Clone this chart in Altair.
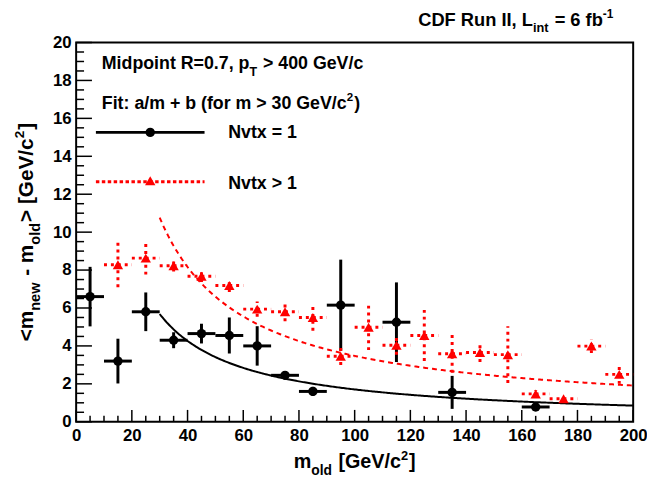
import altair as alt
import pandas as pd

# ---------------- data ----------------
bin_half = 5.0
# Nvtx = 1
m_one = [5, 15, 25, 35, 45, 55, 65, 75, 85, 95, 115, 135, 165]
d_one = [6.6, 3.2, 5.8, 4.3, 4.65, 4.55, 4.0, 2.45, 1.6, 6.15, 5.25, 1.55, 0.78]
e_one = [1.57, 1.18, 1.02, 0.42, 0.52, 0.95, 1.04, 0.2, 0.24, 2.4, 2.1, 0.87, 0.15]
# Nvtx > 1
m_many = [15, 25, 35, 45, 55, 65, 75, 85, 95, 105, 115, 125, 135, 145, 155, 165, 175, 185, 195]
d_many = [8.28, 8.63, 8.23, 7.67, 7.19, 5.94, 5.8, 5.5, 3.45, 4.98, 4.03, 4.55, 3.59, 3.65,
          3.54, 1.47, 1.21, 3.99, 2.5]
e_many = [1.18, 0.87, 0.3, 0.3, 0.35, 0.4, 0.5, 0.7, 0.45, 1.2, 0.5, 1.35, 1.0, 0.5,
          1.5, 0.2, 0.15, 0.37, 0.5]
# fit a/m + b for m > 30
fit_one = (170.5, 0.0)
fit_many = (312.4, 0.35)
fit_range = (30, 200)

x_ticks_major = list(range(0, 201, 20))
y_ticks_major = list(range(0, 21, 2))

# ---------------- layout ----------------
W, H = 564, 384
FONT = "Liberation Sans"
RED = "#ff0000"

xs = alt.Scale(domain=[0, 200], nice=False, zero=False)
ys = alt.Scale(domain=[0, 20], nice=False, zero=False)

common_axis = dict(ticks=False, tickSize=0, domain=False, grid=False, labelFont=FONT,
                   labelFontWeight="bold", labelFontSize=17, labelColor="black",
                   labelOverlap=False, labelFlush=False, labelBound=False, title=None,
                   format="d")
xaxis = alt.Axis(values=x_ticks_major, labelPadding=6, **common_axis)
yaxis = alt.Axis(values=y_ticks_major, labelPadding=5, **common_axis)


def X(f):
    return alt.X(f, type="quantitative", scale=xs, axis=xaxis, title=None)


def Y(f):
    return alt.Y(f, type="quantitative", scale=ys, axis=yaxis, title=None)


def frame(m, d, e):
    df = pd.DataFrame({"m": m, "d": d, "e": e})
    df["xlo"] = df["m"] - bin_half
    df["xhi"] = df["m"] + bin_half
    df["ylo"] = df["d"] - df["e"]
    df["yhi"] = df["d"] + df["e"]
    return df


df1 = frame(m_one, d_one, e_one)
df2 = frame(m_many, d_many, e_many)

layers = []

# fits
for (a, b), col, dash in [(fit_many, RED, [5, 4]), (fit_one, "black", None)]:
    kw = dict(color=col, strokeWidth=2)
    if dash:
        kw["strokeDash"] = dash
    layers.append(
        alt.Chart(alt.sequence(fit_range[0], fit_range[1] + 0.01, 0.5, as_="m"))
        .transform_calculate(f=f"{a}/datum.m + {b}")
        .mark_line(**kw)
        .encode(x=X("m"), y=Y("f"))
    )

# Nvtx = 1
layers.append(alt.Chart(df1).mark_rule(color="black", strokeWidth=3)
              .encode(x=X("xlo"), x2="xhi:Q", y=Y("d")))
layers.append(alt.Chart(df1).mark_rule(color="black", strokeWidth=3)
              .encode(x=X("m"), y=Y("ylo"), y2="yhi:Q"))
layers.append(alt.Chart(df1).mark_point(shape="circle", filled=True, size=90,
                                        color="black", opacity=1)
              .encode(x=X("m"), y=Y("d")))
# Nvtx > 1
layers.append(alt.Chart(df2).mark_rule(color=RED, strokeWidth=3, strokeDash=[3, 4])
              .encode(x=X("xlo"), x2="xhi:Q", y=Y("d")))
layers.append(alt.Chart(df2).mark_rule(color=RED, strokeWidth=3, strokeDash=[3, 4])
              .encode(x=X("m"), y=Y("ylo"), y2="yhi:Q"))
layers.append(alt.Chart(df2).mark_point(shape="triangle-up", filled=True, size=110,
                                        color=RED, opacity=1)
              .encode(x=X("m"), y=Y("d")))

# inward ticks
ytick_major = pd.DataFrame({"v": [v for v in y_ticks_major]})
ytick_minor = pd.DataFrame({"v": [i * 0.5 for i in range(41) if (i * 0.5) % 2 != 0]})
xtick_major = pd.DataFrame({"v": x_ticks_major})
xtick_minor = pd.DataFrame({"v": [v for v in range(0, 201, 5) if v % 20 != 0]})
layers.append(alt.Chart(ytick_major).mark_rule(color="black", strokeWidth=1.5)
              .encode(y=Y("v"), x=alt.value(0), x2=alt.value(16)))
layers.append(alt.Chart(ytick_minor).mark_rule(color="black", strokeWidth=1.5)
              .encode(y=Y("v"), x=alt.value(0), x2=alt.value(8)))
layers.append(alt.Chart(xtick_major).mark_rule(color="black", strokeWidth=1.5)
              .encode(x=X("v"), y=alt.value(H), y2=alt.value(H - 12)))
layers.append(alt.Chart(xtick_minor).mark_rule(color="black", strokeWidth=1.5)
              .encode(x=X("v"), y=alt.value(H), y2=alt.value(H - 6)))

one = pd.DataFrame({"k": [0]})

# legend
layers.append(alt.Chart(one).mark_rule(color="black", strokeWidth=3)
              .encode(x=alt.value(20), x2=alt.value(130), y=alt.value(91)))
layers.append(alt.Chart(one).mark_point(shape="circle", filled=True, size=90,
                                        color="black", opacity=1)
              .encode(x=alt.value(75), y=alt.value(91)))
layers.append(alt.Chart(one).mark_rule(color=RED, strokeWidth=3, strokeDash=[3.5, 2.5])
              .encode(x=alt.value(20), x2=alt.value(130), y=alt.value(141)))
layers.append(alt.Chart(one).mark_point(shape="triangle-up", filled=True, size=110,
                                        color=RED, opacity=1)
              .encode(x=alt.value(75), y=alt.value(140)))

# ---------------- text with sub/superscripts ----------------
AW = {' ': 278, '!': 333, '(': 333, ')': 333, '+': 584, ',': 278, '-': 333,
      '.': 278, '/': 278, ':': 333, '<': 584, '=': 584, '>': 584, '[': 333, ']': 333,
      'A': 722, 'B': 722, 'C': 722, 'D': 722, 'E': 667, 'F': 611, 'G': 778, 'H': 722,
      'I': 278, 'J': 556, 'K': 722, 'L': 611, 'M': 833, 'N': 722, 'O': 778, 'P': 667,
      'Q': 778, 'R': 722, 'S': 667, 'T': 611, 'U': 722, 'V': 667, 'W': 944, 'X': 667,
      'Y': 667, 'Z': 611, 'a': 556, 'b': 611, 'c': 556, 'd': 611, 'e': 556, 'f': 333,
      'g': 611, 'h': 611, 'i': 278, 'j': 278, 'k': 556, 'l': 278, 'm': 889, 'n': 611,
      'o': 611, 'p': 611, 'q': 611, 'r': 389, 's': 556, 't': 333, 'u': 611, 'v': 556,
      'w': 778, 'x': 556, 'y': 556, 'z': 500}


def tw(s, fs):
    return sum(AW.get(c, 556) for c in s) * fs / 1000.0


SUB = (0.7, 0.36)
SUP = (0.65, 0.42)


def piece_params(kind, fs):
    if kind == "sub":
        return fs * SUB[0], fs * SUB[1], 1.0
    if kind == "sup":
        return fs * SUP[0], -fs * SUP[1], 1.0
    return fs, 0.0, 0.0


def total_width(pieces, fs):
    t = 0.0
    for txt, kind in pieces:
        s, _, g = piece_params(kind, fs)
        t += tw(txt, s) + g
    return t


def layout(pieces, x0, y0, fs, rotated=False):
    """Place text pieces one after another; leading spaces (which the renderer
    trims) become an offset instead."""
    out = []
    adv = 0.0
    for txt, kind in pieces:
        s, off, g = piece_params(kind, fs)
        stripped = txt.lstrip(" ")
        lead = tw(txt[: len(txt) - len(stripped)], s)
        if rotated:
            out.append((stripped, x0 + off, y0 - adv - lead, s))
        else:
            out.append((stripped, x0 + adv + lead, y0 + off, s))
        adv += tw(txt, s) + g
    return out


texts = []
# top-right title
t_p = [("CDF Run II, L", "n"), ("int", "sub"), (" = 6 fb", "n"), ("-1", "sup")]
texts += [(p, 0) for p in layout(t_p, 545 - total_width(t_p, 18.5), -17, 18.5)]
# annotation lines
texts += [(p, 0) for p in layout([("Midpoint R=0.7, p", "n"), ("T", "sub"),
                                  (" > 400 GeV/c", "n")], 26, 27, 18)]
texts += [(p, 0) for p in layout([("Fit: a/m + b (for m > 30 GeV/c", "n"), ("2", "sup"),
                                  (")", "n")], 26, 67, 18)]
texts += [(p, 0) for p in layout([("Nvtx = 1", "n")], 154, 97, 18)]
texts += [(p, 0) for p in layout([("Nvtx > 1", "n")], 154, 148, 18)]
# x title
xt_p = [("m", "n"), ("old", "sub"), (" [GeV/c", "n"), ("2", "sup"), ("]", "n")]
texts += [(p, 0) for p in layout(xt_p, W / 2 - total_width(xt_p, 20) / 2, 431, 20)]
# y title (rotated)
yt_p = [("<m", "n"), ("new", "sub"), (" - m", "n"), ("old", "sub"), ("> [GeV/c", "n"),
        ("2", "sup"), ("]", "n")]
texts += [(p, 270) for p in layout(yt_p, -44, H / 2 + total_width(yt_p, 21) / 2, 21,
                                   rotated=True)]

for (txt, px, py, size), ang in texts:
    kw = dict(text=txt, font=FONT, fontWeight="bold", fontSize=size, align="left",
              baseline="alphabetic", color="black")
    if ang:
        kw["angle"] = ang
    layers.append(alt.Chart(one).mark_text(**kw)
                  .encode(x=alt.value(px), y=alt.value(py)))

chart = (
    alt.layer(*layers)
    .properties(width=W, height=H, autosize=alt.AutoSizeParams(type="none"),
                padding={"left": 69, "top": 32, "right": 14, "bottom": 55},
                background="white")
    .configure_view(stroke="black", strokeWidth=2)
)

chart.save("out.html", embed_options={"renderer": "svg", "actions": False})
